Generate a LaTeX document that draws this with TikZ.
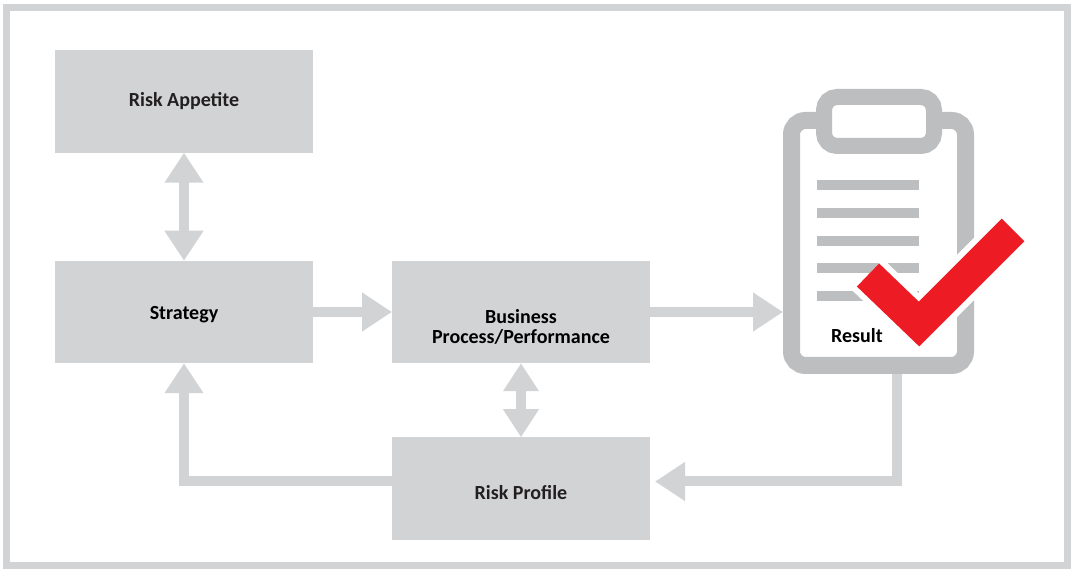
\documentclass[tikz,border=0pt]{standalone}
\usepackage{fontspec}
\setmainfont{Carlito}
\usepackage{tikz}
\usetikzlibrary{arrows.meta, positioning}
\definecolor{boxgray}{HTML}{D1D3D4}
\definecolor{boardgray}{HTML}{BCBEC0}
\definecolor{checkred}{HTML}{ED1C24}
\definecolor{textdark}{HTML}{231F20}
\newcommand{\dropText}[2]{\raisebox{-#1}[\height][\depth]{\begin{tabular}{@{}c@{}}#2\end{tabular}}}
\tikzset{
  riskbox/.style={
    rectangle,
    fill=boxgray,
    minimum width=258pt,
    minimum height=102.5pt,
    inner sep=0pt, outer sep=0pt,
    text=textdark,
    align=center,
    font=\bfseries\fontsize{20}{19}\selectfont},
  keybox/.style={riskbox, text=black},
  fatline/.style={draw=boxgray, line width=10pt,
    -{Triangle[length=30pt,width=37pt]}},
  fatboth/.style={fatline,
    {Triangle[length=30pt,width=37pt]}-{Triangle[length=30pt,width=37pt]}},
  board/.style={
    rectangle, draw=boardgray, line width=17pt,
    rounded corners=14pt,
    minimum width=174pt, minimum height=245pt,
    inner sep=0pt, outer sep=8.5pt},
  clip/.style={
    rectangle, draw=boardgray, fill=white, line width=16pt,
    rounded corners=13pt,
    minimum width=110pt, minimum height=49pt,
    inner sep=0pt, outer sep=8pt},
  boardline/.style={draw=boardgray, line width=10pt},
}
\begin{document}
\begin{tikzpicture}[x=1pt, y=-1pt, node distance=108pt]
     \useasboundingbox (0,0) rectangle (1072,569);
     \draw[boxgray, line width=7pt] (6.5,7.5) rectangle (1067.5,565.5);
     \node[riskbox] (RiskAppetite) at (184,101.5) {Risk Appetite};
     \node[keybox, below=of RiskAppetite] (Strategy) {\dropText{4pt}{Strategy}};
     \node[keybox, right=79pt of Strategy] (Business) {\dropText{17pt}{Business\\Process/Performance}};
     \node[riskbox, below=74pt of Business] (RiskProfile) {\dropText{7pt}{Risk Profile}};
     % clipboard
     \node[board] (Board) at (878.5,243) {};
     \node[clip] (Clip) at (879,121.5) {};
     \foreach \y in {185,213,241.5,268,296}
        \draw[boardline] (817,\y) -- (919,\y);
     \draw[white, line width=44pt, line join=miter] (868,275) -- (919,324) -- (1013,230);
     \draw[checkred, line width=32pt, line join=miter] (868,275) -- (919,324) -- (1013,230);
     \node[anchor=base west, inner sep=0pt, font=\bfseries\fontsize{20}{19}\selectfont] (Result) at (831,343) {Result};
     % connectors
     \draw[fatboth] (RiskAppetite) -- (Strategy);
     \draw[fatline] (Strategy) -- (Business);
     \draw[fatline] (Business.east) -- (Board.west |- Business.east);
     \draw[fatboth, {Triangle[length=28pt,width=34pt]}-{Triangle[length=28pt,width=34pt]}] (Business) -- (RiskProfile);
     \draw[fatline] ([xshift=18.5pt]Board.south) |- ([xshift=5pt,yshift=7pt]RiskProfile.east);
     \draw[fatline] ([yshift=7pt]RiskProfile.west) -| (Strategy.south);
\end{tikzpicture}
\end{document}
